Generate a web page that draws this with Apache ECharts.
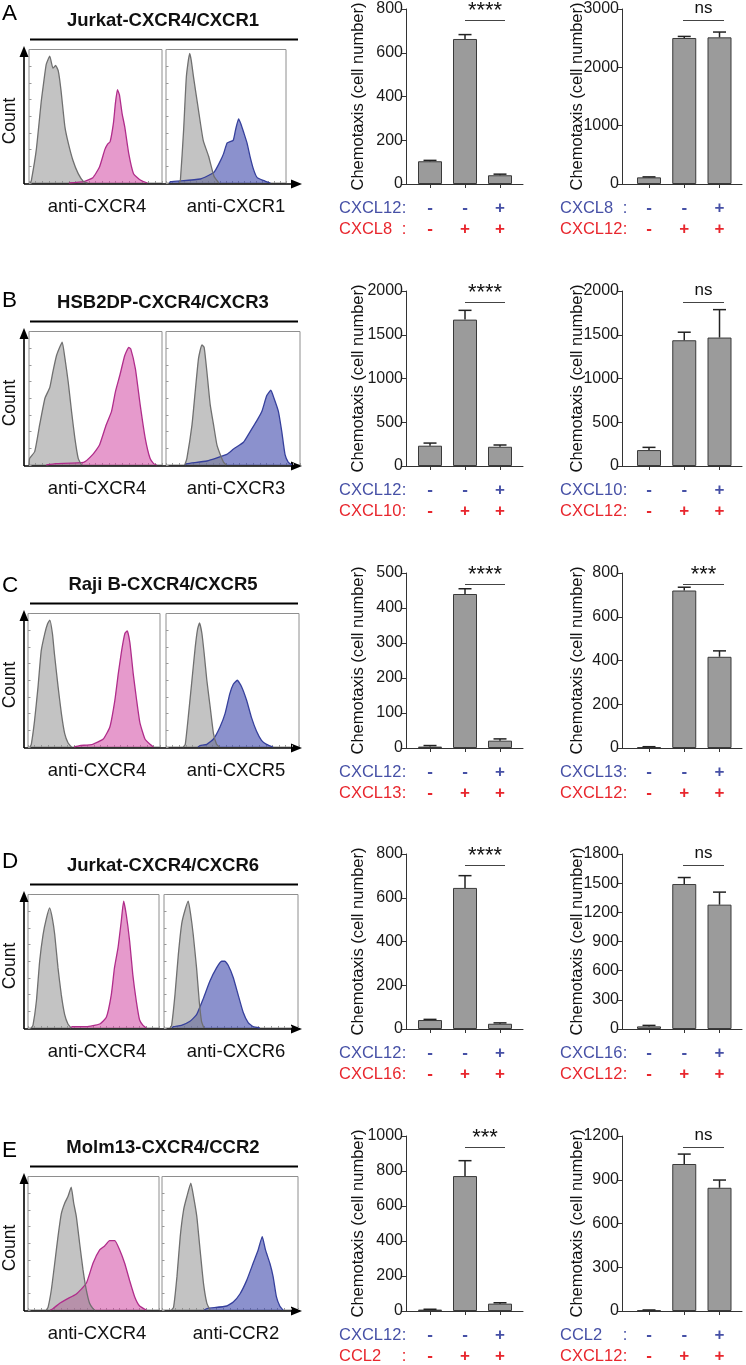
<!DOCTYPE html>
<html><head><meta charset="utf-8">
<script src="https://cdn.jsdelivr.net/npm/echarts@6/dist/echarts.min.js"></script>
<style>html,body{margin:0;padding:0;background:#fff}#c{width:746px;height:1365px}</style>
</head><body><div id="c"></div>
<script>
const FONT = '"Liberation Sans", Arial, Helvetica, sans-serif';

// ---------- text content ----------
const rowLetters = ['A', 'B', 'C', 'D', 'E'];
const cellLines = ['Jurkat-CXCR4/CXCR1', 'HSB2DP-CXCR4/CXCR3', 'Raji B-CXCR4/CXCR5', 'Jurkat-CXCR4/CXCR6', 'Molm13-CXCR4/CCR2'];
const histLabelLeft = ['anti-CXCR4', 'anti-CXCR4', 'anti-CXCR4', 'anti-CXCR4', 'anti-CXCR4'];
const histLabelRight = ['anti-CXCR1', 'anti-CXCR3', 'anti-CXCR5', 'anti-CXCR6', 'anti-CCR2'];

// ---------- histogram data: [channel %, count %] ----------
const histA_iso1 = [[1,0],[1.8,2],[5.5,25],[9.3,62],[11,75],[13,89],[15.6,95],[18,86],[20,88],[22,84],[24,70],[27,42],[29.5,30],[33,17],[37,7],[41,1],[44,0]];
const histA_cxcr4 = [[30,0],[41,1],[48,4],[53,12],[57,25],[59,29],[61,31],[63.5,45],[65,60],[66.5,70],[68,66],[70,52],[72,42],[75,22],[78.6,7],[84,2],[89,0]];
const histA_iso2 = [[11,0],[12,2],[14.7,40],[17,80],[19.7,97],[21,92],[23,79],[27,55],[31,32],[35.5,20],[40,5],[44,0]];
const histA_cxcr1 = [[3,0],[3.6,1],[28.6,3],[40,8],[45,16],[48,22],[51,30],[56,32],[58,40],[60.5,48],[62.5,44],[64.7,38],[67.5,30],[70,20],[73,10],[76,4],[81,2],[87,0]];

const histB_iso1 = [[0,0],[0.5,5],[4.3,10],[8,30],[12,50],[15.6,58],[18,70],[20.7,82],[23,88],[25,92],[27,80],[29.5,62],[32,40],[34.5,20],[37,5],[39.5,0]];
const histB_cxcr4 = [[13,0],[20,1],[41,2],[48,8],[53,15],[58,30],[62,40],[65,55],[68.5,68],[72,82],[75,88],[76.5,87],[80,72],[83.6,45],[87.4,20],[91,5],[93.7,1],[96,0]];
const histB_iso2 = [[14,0],[15.6,5],[19.4,30],[21.8,55],[24.3,80],[26.8,90],[28.5,88],[30.5,70],[33,45],[35.5,30],[38,15],[40.4,8],[43,2],[45,0]];
const histB_cxcr3 = [[14,0],[15.6,1],[30.5,3],[45.4,8],[50.4,12],[57.8,17],[62.8,25],[67.7,33],[71.5,40],[75.2,52],[78.2,56],[80.6,50],[83.9,40],[86.4,25],[88.8,8],[91.3,2],[94,0]];

const histC_iso1 = [[1.5,0],[2.5,2],[5,20],[7.6,45],[10,72],[12.7,85],[14.7,92],[16.5,95],[18.5,85],[20,70],[22.8,45],[25.3,25],[27.8,10],[30.4,3],[33,0]];
const histC_cxcr4 = [[35,0],[39,1],[49,2],[57,6],[62,15],[65.8,35],[68.4,55],[70.9,72],[73.4,85],[75.2,87],[77.2,78],[79.7,55],[82.3,35],[84.8,18],[88.6,6],[92.4,2],[95,0]];
const histC_iso2 = [[13,0],[14.5,2],[17,25],[19.5,50],[22,75],[23.7,88],[25.2,93],[27,85],[28.7,70],[30.7,50],[33.2,30],[35.7,10],[38,2],[40,0]];
const histC_cxcr5 = [[24,0],[25.7,1],[30.7,2],[35.7,6],[40.6,15],[44.4,25],[48,40],[50.6,47],[53.6,50],[56.9,45],[60.6,35],[64.3,22],[68,12],[71.8,5],[75.6,2],[80.5,0]];

const histD_iso1 = [[2.5,0],[3.8,2],[6.4,20],[8.9,50],[11.5,70],[14,82],[16.5,90],[18.6,82],[20.4,70],[22.9,45],[25.4,25],[28,10],[30.5,3],[33,0]];
const histD_cxcr4 = [[32,0],[34,1],[44.5,1],[54.7,3],[59.8,8],[63.6,25],[66,45],[68.7,60],[71.2,80],[73,95],[75,85],[77.6,65],[80,40],[82.7,20],[85.2,6],[87.8,2],[90.3,0]];
const histD_iso2 = [[4.5,0],[5.7,2],[8.2,25],[10.7,55],[13.2,78],[15.6,88],[18.1,95],[19.9,85],[21.8,70],[24.3,45],[26.3,20],[28,5],[29.8,0]];
const histD_cxcr6 = [[6,0],[7,1],[13,2],[19.4,5],[24.3,10],[29.3,22],[34.2,35],[39.2,45],[43,50],[45.4,50],[47.9,47],[51.6,38],[55.3,25],[59,12],[62.8,4],[66.5,1],[71.5,0]];

const histE_iso1 = [[14,0],[15.3,2],[17.8,15],[20.4,35],[22.9,55],[25.4,72],[28,80],[30.5,85],[33,92],[34.9,80],[36.9,70],[39.4,50],[42,30],[44.5,15],[47,5],[49.6,1],[51,0]];
const histE_cxcr4 = [[17,0],[19,1],[24.2,5],[29.3,8],[36.9,12],[44.5,20],[49.6,35],[54.7,45],[58.5,48],[62.3,52],[66.2,52],[70,45],[73.8,35],[77.6,22],[81.4,10],[85.2,3],[90.3,0]];
const histE_iso2 = [[7,0],[8.5,2],[11,25],[13.4,55],[15.9,75],[18.3,85],[21.2,95],[23.2,85],[25.6,70],[28,45],[30.5,20],[33,5],[35.4,0]];
const histE_ccr2 = [[31,0],[33,1],[47.6,3],[52.4,6],[57.3,12],[62.2,22],[67,35],[70.7,45],[73.7,55],[76.1,45],[79.3,35],[81.7,25],[84.1,10],[86.6,3],[89,0]];

// ---------- chemotaxis bar data (mean, upper error) ----------
const categories = ['none', 'single', 'both'];
const barA1 = [104, 663, 40],   errA1 = [108, 683, 45];
const barA2 = [114, 2503, 2514], errA2 = [122, 2530, 2605];
const barB1 = [232, 1673, 220], errB1 = [262, 1779, 240];
const barB2 = [182, 1437, 1468], errB2 = [213, 1529, 1787];
const barC1 = [4, 440, 21],     errC1 = [7, 455, 26];
const barC2 = [4, 720, 417],    errC2 = [6, 735, 444];
const barD1 = [41, 645, 24],    errD1 = [44, 701, 28];
const barD2 = [27, 1491, 1279], errD2 = [37, 1558, 1408];
const barE1 = [8, 771, 42],     errE1 = [10, 859, 47];
const barE2 = [5, 1008, 845],   errE2 = [7, 1076, 898];

const yMax1 = [800, 2000, 500, 800, 1000];
const yStep1 = [200, 500, 100, 200, 200];
const yMax2 = [3000, 2000, 800, 1800, 1200];
const yStep2 = [1000, 500, 200, 300, 300];
const sig1 = ['****', '****', '****', '****', '***'];
const sig2 = ['ns', 'ns', '***', 'ns', 'ns'];

const treat1Top = ['CXCL12', 'CXCL12', 'CXCL12', 'CXCL12', 'CXCL12'];
const treat1Bot = ['CXCL8', 'CXCL10', 'CXCL13', 'CXCL16', 'CCL2'];
const treat2Top = ['CXCL8', 'CXCL10', 'CXCL13', 'CXCL16', 'CCL2'];
const treat2Bot = ['CXCL12', 'CXCL12', 'CXCL12', 'CXCL12', 'CXCL12'];
const signsTop = ['-', '-', '+'];
const signsBot = ['-', '+', '+'];

// ---------- assemble ----------
const histSets = [
  [histA_iso1, histA_cxcr4, histA_iso2, histA_cxcr1],
  [histB_iso1, histB_cxcr4, histB_iso2, histB_cxcr3],
  [histC_iso1, histC_cxcr4, histC_iso2, histC_cxcr5],
  [histD_iso1, histD_cxcr4, histD_iso2, histD_cxcr6],
  [histE_iso1, histE_cxcr4, histE_iso2, histE_ccr2]
];
const barSets = [
  [[barA1, errA1], [barA2, errA2]],
  [[barB1, errB1], [barB2, errB2]],
  [[barC1, errC1], [barC2, errC2]],
  [[barD1, errD1], [barD2, errD2]],
  [[barE1, errE1], [barE2, errE2]]
];

// layout
const rowTop = [9, 291, 573, 854, 1136];
const letterY = [14, 301, 586, 862, 1151];
const boxL = [[29,162],[29,162],[28,160],[28,159],[28,159]];
const boxR = [[166,286],[166,300],[166,299],[164,298],[162,298]];
const BLUE = '#4650a6', RED = '#e8262d';
const chartPos = [
  {left: 406, width: 117, xmin: -0.686, xmax: 2.657, nameGap: 39, nameX: 339, colonX: 404, sx: [1.0, 2.143]},
  {left: 622, width: 120, xmin: -0.766, xmax: 2.638, nameGap: 36, nameX: 560, colonX: 625, sx: [0.965, 2.128]}
];

const grids = [], xAxes = [], yAxes = [], series = [], graphics = [];

function addText(text, x, y, o) {
  graphics.push(Object.assign({
    type: 'text', x: x, y: y, silent: true,
    style: Object.assign({text: text, fill: '#111', fontFamily: FONT, fontSize: 17, align: 'center', verticalAlign: 'middle'}, o && o.style)
  }, o && o.el));
}
function addLine(x1, y1, x2, y2, w, c) {
  graphics.push({type: 'line', silent: true, shape: {x1, y1, x2, y2}, style: {stroke: c || '#111', lineWidth: w || 1}});
}
function addPoly(pts) {
  graphics.push({type: 'polygon', silent: true, shape: {points: pts}, style: {fill: '#000'}});
}

const fills = {
  gray: ['rgba(135,135,135,0.5)', '#707070'],
  pink: ['rgba(208,62,158,0.52)', '#b02d8b'],
  blue: ['rgba(62,72,172,0.6)', '#36409c']
};
function histSeries(gi, data, kind) {
  series.push({
    type: 'line', xAxisIndex: gi, yAxisIndex: gi, data: data, showSymbol: false, smooth: 0.15,
    lineStyle: {color: fills[kind][1], width: 1.3}, areaStyle: {color: fills[kind][0], opacity: 1, origin: 'start'},
    silent: true, animation: false
  });
}

for (let r = 0; r < 5; r++) {
  const y0 = rowTop[r];
  addText(rowLetters[r], 2, letterY[r], {style: {fontSize: 22.5, align: 'left', fill: '#000'}});
  addText(cellLines[r], 163, y0 + 12, {style: {fontSize: 18.5, fontWeight: 'bold', fill: '#111'}});
  addLine(30, y0 + 30.5, 298, y0 + 30.5, 2, '#000');

  [boxL[r], boxR[r]].forEach((box, side) => {
    const gi = grids.length;
    grids.push({left: box[0], top: y0 + 40.5, width: box[1] - box[0], height: 133.5, show: true,
      borderColor: '#8e8e8e', borderWidth: 1, backgroundColor: 'transparent', containLabel: false, outerBoundsMode: 'none'});
    xAxes.push({gridIndex: gi, type: 'value', min: 0, max: 100, interval: 5,
      axisLine: {show: false, onZero: false}, axisLabel: {show: false},
      axisTick: {show: true, inside: true, length: 2, lineStyle: {color: '#999'}}, splitLine: {show: false}});
    yAxes.push({gridIndex: gi, type: 'value', min: 0, max: 100, interval: 12.5,
      axisLine: {show: false, onZero: false}, axisLabel: {show: false},
      axisTick: {show: true, inside: true, length: 2.5, lineStyle: {color: '#999'}}, splitLine: {show: false}});
    const set = histSets[r];
    if (side === 0) { histSeries(gi, set[1], 'pink'); histSeries(gi, set[0], 'gray'); }
    else { histSeries(gi, set[3], 'blue'); histSeries(gi, set[2], 'gray'); }
  });
  const yb = y0 + 175;
  addLine(24, yb, 24, y0 + 44, 1.6, '#000');
  addPoly([[24, y0 + 37], [19.5, y0 + 48], [28.5, y0 + 48]]);
  addLine(24, yb, 294, yb, 1.6, '#000');
  addPoly([[302, yb], [291, yb - 4.5], [291, yb + 4.5]]);
  addText('Count', 10, y0 + 112, {style: {fontSize: 17.5}, el: {rotation: Math.PI / 2}});
  addText(histLabelLeft[r], 97, y0 + 198, {style: {fontSize: 18.5}});
  addText(histLabelRight[r], 236, y0 + 198, {style: {fontSize: 18.5}});

  for (let k = 0; k < 2; k++) {
    const cp = chartPos[k];
    const gi = grids.length;
    const vals = barSets[r][k][0], errs = barSets[r][k][1];
    const ymax = k === 0 ? yMax1[r] : yMax2[r];
    const ystep = k === 0 ? yStep1[r] : yStep2[r];
    const sig = k === 0 ? sig1[r] : sig2[r];
    grids.push({left: cp.left, top: y0, width: cp.width, height: 175, containLabel: false, outerBoundsMode: 'none'});
    xAxes.push({gridIndex: gi, type: 'value', min: cp.xmin, max: cp.xmax,
      axisLine: {show: true, onZero: false, lineStyle: {color: '#333', width: 1}},
      axisTick: {show: true, customValues: [0, 1, 2], length: 4, lineStyle: {color: '#333'}},
      axisLabel: {show: true, customValues: [0, 1, 2], margin: 14,
        formatter: function (v) { const i = Math.round(v); return '{t|' + signsTop[i] + '}\n{b|' + signsBot[i] + '}'; },
        rich: {
          t: {color: BLUE, fontSize: 17, fontWeight: 'bold', fontFamily: FONT, lineHeight: 21},
          b: {color: RED, fontSize: 17, fontWeight: 'bold', fontFamily: FONT, lineHeight: 21}
        }},
      splitLine: {show: false}});
    yAxes.push({gridIndex: gi, type: 'value', min: 0, max: ymax, interval: ystep,
      name: 'Chemotaxis (cell number)', nameLocation: 'middle', nameGap: cp.nameGap, nameMoveOverlap: false,
      nameTextStyle: {fontSize: 16.5, color: '#111', fontFamily: FONT},
      axisLine: {show: true, onZero: false, lineStyle: {color: '#333', width: 1}},
      axisTick: {show: true, length: 4, lineStyle: {color: '#333'}},
      axisLabel: {fontSize: 16, color: '#1a1a1a', fontFamily: FONT, margin: 3, formatter: v => String(v)},
      splitLine: {show: false}});
    const sigY = ymax * 0.934;
    series.push({
      type: 'bar', xAxisIndex: gi, yAxisIndex: gi, barWidth: 24, silent: true, animation: false,
      data: vals.map((v, i) => [i, v]),
      itemStyle: {color: '#9b9b9b', borderColor: '#3a3a3a', borderWidth: 1},
      markLine: {silent: true, animation: false, symbol: ['none', 'none'],
        lineStyle: {color: '#444', width: 1, type: 'solid'},
        label: {show: true, position: 'middle', formatter: sig, color: '#111', fontFamily: FONT,
          fontSize: sig === 'ns' ? 17 : 22, distance: sig === 'ns' ? 4 : -1},
        emphasis: {disabled: true},
        data: [[{coord: [cp.sx[0], sigY]}, {coord: [cp.sx[1], sigY]}]]}
    });
    series.push({
      type: 'custom', xAxisIndex: gi, yAxisIndex: gi, silent: true, animation: false, z: 5,
      data: vals.map((v, i) => [i, v, errs[i]]),
      renderItem: function (params, api) {
        const x = api.value(0), a = api.coord([x, api.value(1)]), b = api.coord([x, api.value(2)]);
        return {type: 'group', children: [
          {type: 'line', shape: {x1: a[0], y1: a[1], x2: b[0], y2: b[1]}, style: {stroke: '#222', lineWidth: 1.5}},
          {type: 'line', shape: {x1: b[0] - 6.5, y1: b[1], x2: b[0] + 6.5, y2: b[1]}, style: {stroke: '#222', lineWidth: 1.5}}
        ]};
      }
    });
    const tTop = k === 0 ? treat1Top[r] : treat2Top[r];
    const tBot = k === 0 ? treat1Bot[r] : treat2Bot[r];
    addText(tTop, cp.nameX, y0 + 199, {style: {fontSize: 16.5, align: 'left', fill: BLUE}});
    addText(':', cp.colonX, y0 + 199, {style: {fontSize: 16.5, fill: BLUE}});
    addText(tBot, cp.nameX, y0 + 220, {style: {fontSize: 16.5, align: 'left', fill: RED}});
    addText(':', cp.colonX, y0 + 220, {style: {fontSize: 16.5, fill: RED}});
  }
}

const chart = echarts.init(document.getElementById('c'), null, {renderer: 'canvas'});
chart.setOption({
  animation: false,
  backgroundColor: '#fff',
  textStyle: {fontFamily: FONT},
  grid: grids, xAxis: xAxes, yAxis: yAxes, series: series,
  graphic: graphics
});
</script></body></html>
